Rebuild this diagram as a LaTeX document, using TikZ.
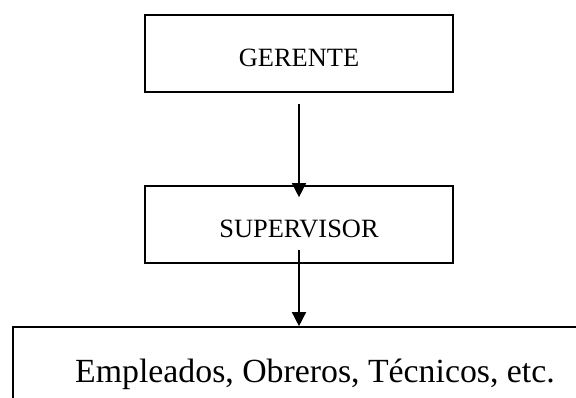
\documentclass[tikz,border=0pt]{standalone}
\usepackage{fontspec}
\setmainfont{Liberation Serif}
\usetikzlibrary{arrows.meta}
\begin{document}
\begin{tikzpicture}[x=1pt,y=1pt,
  box/.style={draw=black, line width=1.6pt, minimum width=308pt, minimum height=77pt, inner sep=0pt, text height=27pt, font=\fontsize{26.4}{30}\selectfont},
  bigbox/.style={draw=black, line width=1.6pt, minimum width=604pt, minimum height=95pt, inner sep=0pt, font=\fontsize{33.8}{38}\selectfont},
  conn/.style={line width=1.4pt, -{Triangle[length=14pt,width=14pt]}}]
\useasboundingbox (0,0) rectangle (576,398);
\node[box] (g) at (299,344.5) {GERENTE};
\node[box] (s) at (299,173.5) {SUPERVISOR};
\node[bigbox] (e) at (315,23.5) {Empleados, Obreros, Técnicos, etc.};
\draw[conn] ([yshift=-11pt]g.south) -- ([yshift=-12pt]s.north);
\draw[conn] ([yshift=14pt]s.south) -- (e.north -| s.south);
\end{tikzpicture}
\end{document}
